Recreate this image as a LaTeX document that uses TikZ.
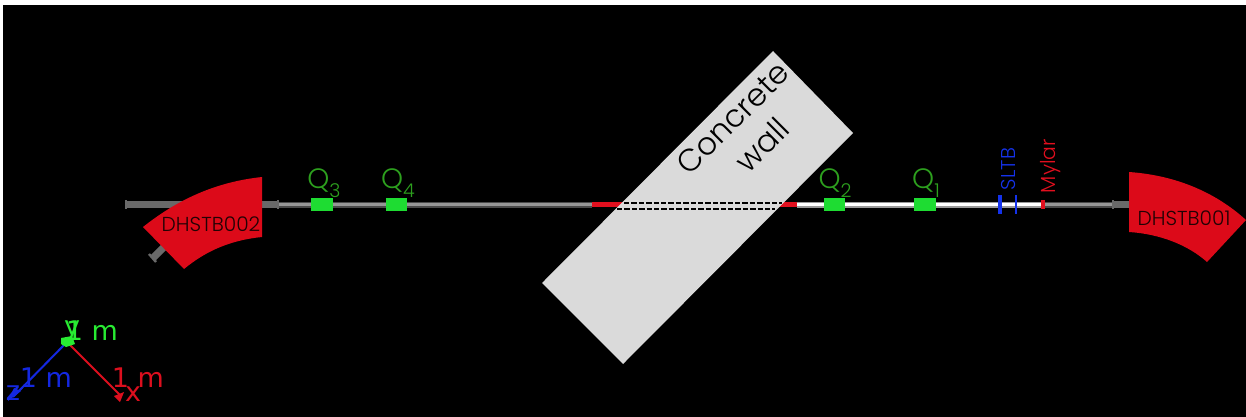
\documentclass[tikz,border=0pt]{standalone}
\usepackage{fontspec}
\setmainfont{Poppins}[UprightFont={* Light}]
\newfontfamily\axisfont{DejaVu Sans}
\definecolor{dipole}{RGB}{220,10,25}
\definecolor{wallgray}{RGB}{218,218,218}
\definecolor{quadgreen}{RGB}{30,220,50}
\definecolor{qlabel}{RGB}{45,160,30}
\definecolor{slitblue}{RGB}{20,50,235}
\definecolor{mylarred}{RGB}{225,15,30}
\definecolor{pipegray}{RGB}{105,105,105}
\definecolor{pipelight}{RGB}{150,150,150}
\definecolor{axgreen}{RGB}{40,235,50}
\definecolor{axblue}{RGB}{20,40,225}
\definecolor{axred}{RGB}{220,15,30}
\tikzset{
  pipe/.style={draw=pipegray!70!black,line width=3pt},
  pipecore/.style={draw=pipelight,line width=1.3pt},
  thickpipe/.style={draw=pipegray,line width=3.6pt},
  whitepipe/.style={draw=white!60!black,line width=3pt},
  whitecore/.style={draw=white,line width=1.6pt},
  redpipe/.style={draw=mylarred,line width=2.6pt},
  tick/.style={draw=pipegray,line width=1.2pt},
  quad/.style={fill=quadgreen,draw=none},
  dip/.style={fill=dipole,draw=none},
  diplabel/.style={text=black!85!dipole,font=\fontsize{10.1}{12}\selectfont,inner sep=0pt},
  qlab/.style={text=qlabel,font=\fontsize{14}{16}\selectfont,inner sep=0pt},
  dashline/.style={draw=black,line width=1pt,dash pattern=on 2.7pt off 1pt},
  walltext/.style={rotate=45,text=black,font=\fontsize{15.6}{18}\selectfont,inner sep=0pt},
  axlab/.style={font=\axisfont\fontsize{13.5}{15}\selectfont,inner sep=0pt},
}
\newcommand{\qsub}[1]{\raisebox{-0.55ex}{\fontsize{9.5}{11}\selectfont #1}}
\begin{document}
\begin{tikzpicture}[x=0.5pt,y=-0.5pt]
\useasboundingbox (0,0) rectangle (1246,417);
\fill[white] (0,0) rectangle (1246,417);
\fill[black] (3,5) rectangle (1246,417);
% beam pipe
\coordinate (leftend) at (126,204.5);
\coordinate (leftflange) at (278,204.5);
\coordinate (redA) at (592,204.5);
\coordinate (redB) at (640,204.5);
\coordinate (redC) at (770,204.5);
\coordinate (redD) at (797,204.5);
\coordinate (mylar) at (1043,204.5);
\coordinate (rightflange) at (1113,204.5);
\coordinate (rightend) at (1135,204.5);
\draw[thickpipe] (leftend) -- (leftflange);
\draw[pipe] (leftflange) -- (redA);
\draw[pipecore] (leftflange) -- (redA);
\draw[redpipe] (redA) -- (redB);
\draw[redpipe] (redC) -- (redD);
\draw[whitepipe] (redD) -- (mylar);
\draw[whitecore] (redD) -- (mylar);
\draw[pipe] (mylar) -- (rightflange);
\draw[pipecore] (mylar) -- (rightflange);
\draw[thickpipe] (rightflange) -- (rightend);
\draw[tick] (126,200) -- (126,209);
\draw[tick] (278,200) -- (278,209);
\draw[tick] (1113,200) -- (1113,209);
% exit pipe of DHSTB002
\draw[thickpipe] (153,258) -- (175,236);
\draw[tick] (149,254) -- (156,262);
% wall
\fill[wallgray] (773,51) -- (853,133) -- (623,364) -- (542,283) -- cycle;
\draw[dashline] (624,202.5) -- (782,202.5);
\draw[dashline] (617,209) -- (775,209);
\node[walltext] (wall) at (733,118) {Concrete};
\node[walltext] (wallb) at (762,145) {wall};
% quadrupoles
\fill[quad] (311,198) rectangle (333,211);
\fill[quad] (386,198) rectangle (407,211);
\fill[quad] (824,198) rectangle (845,211);
\fill[quad] (914,198) rectangle (936,211);
\node[qlab] (q3) at (324,183) {Q\qsub{3}};
\node[qlab] (q4) at (398,183) {Q\qsub{4}};
\node[qlab] (q2) at (835,183) {Q\qsub{2}};
\node[qlab] (q1) at (926,183) {Q\qsub{1}};
% slits and mylar
\fill[slitblue] (997.5,195) rectangle (1001.5,214);
\fill[slitblue] (1015,195) rectangle (1017,214);
\fill[mylarred] (1041,200) rectangle (1045,209);
\node[rotate=90,text=slitblue,font=\fontsize{10}{11}\selectfont,inner sep=0pt] (sltb) at (1008,169) {SLTB};
\node[rotate=90,text=mylarred,font=\fontsize{10.2}{11}\selectfont,inner sep=0pt] (mylartxt) at (1051,166) {Mylar};
% dipoles
\fill[dip] (262,177) .. controls (215,182) and (177,200) .. (143,227) -- (184,269) .. controls (207,250) and (232,240) .. (262,237) -- cycle;
\fill[dip] (1129,172) .. controls (1172,175) and (1213,190) .. (1246,220) -- (1207,262) .. controls (1188,245) and (1160,234) .. (1129,232) -- cycle;
\node[diplabel] (d2) at (211,224) {DHSTB002};
\node[diplabel] (d1) at (1184,218) {DHSTB001};
% axes
\coordinate (origin) at (67,342);
\coordinate (xend) at (121,396);
\coordinate (zend) at (13,397);
\draw[axblue,line width=1pt] (origin) -- (zend);
\draw[axred,line width=1pt] (origin) -- (xend);
\fill[axblue] (8,401) -- (21,391) -- (14,388) -- cycle;
\fill[axred] (120,402) -- (124,392) -- (114,396) -- cycle;
\fill[axgreen] (61,338) -- (72,336) -- (75,344) -- (66,347) -- (61,344) -- cycle;
\node[axlab,text=axgreen] (ylab) at (72,331) {y};
\node[axlab,text=axgreen] (ym) at (92,331) {1 m};
\node[axlab,text=axblue] (zlab) at (13,393) {z};
\node[axlab,text=axblue] (zm) at (46,378) {1 m};
\node[axlab,text=axred] (xlab) at (133,394) {x};
\node[axlab,text=axred] (xm) at (138,378) {1 m};
\end{tikzpicture}
\end{document}
